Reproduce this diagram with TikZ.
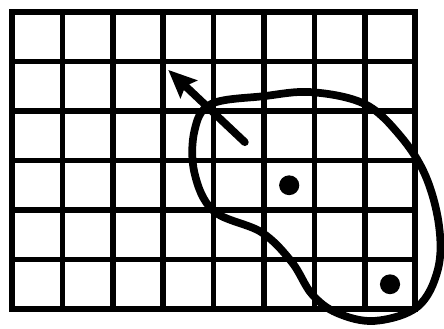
\documentclass[tikz,border=0pt]{standalone}
\usetikzlibrary{arrows.meta}
\begin{document}
\begin{tikzpicture}[x=1.008cm,y=-0.99cm,
  gridline/.style={line width=3.1pt},
  blob/.style={line width=4.4pt,line join=round},
  pointer/.style={line width=4.4pt,line cap=round,-{Stealth[length=5.6mm,width=4.8mm,inset=0.9mm]}},
  marker/.style={fill=black}]
\useasboundingbox (-0.238,-0.242) rectangle (8.571,6.384);

\foreach \x in {1,...,7}
{
  \draw[gridline] (\x,0) -- (\x,6);
}
\foreach \y in {1,...,5}
{
  \draw[gridline] (0,\y) -- (8,\y);
}
\draw[gridline,line width=3.5pt] (0,0) rectangle (8,6);

\draw[blob] plot[smooth cycle,tension=0.6] coordinates {(3.95,1.86) (5.00,1.70) (5.95,1.62) (7.00,1.86) (7.70,2.50) (8.20,3.30) (8.47,4.30) (8.45,5.20) (8.05,5.95) (7.20,6.24) (6.45,6.08) (5.95,5.70) (5.55,5.05) (4.95,4.45) (4.00,4.02) (3.62,3.25) (3.62,2.40)};

\coordinate (tail) at (4.62,2.63);
\coordinate (tip) at (3.10,1.17);
\draw[pointer] (tail) -- (tip);

\fill[marker] (5.5,3.5) circle (0.2);
\fill[marker] (7.5,5.5) circle (0.2);
\end{tikzpicture}
\end{document}
